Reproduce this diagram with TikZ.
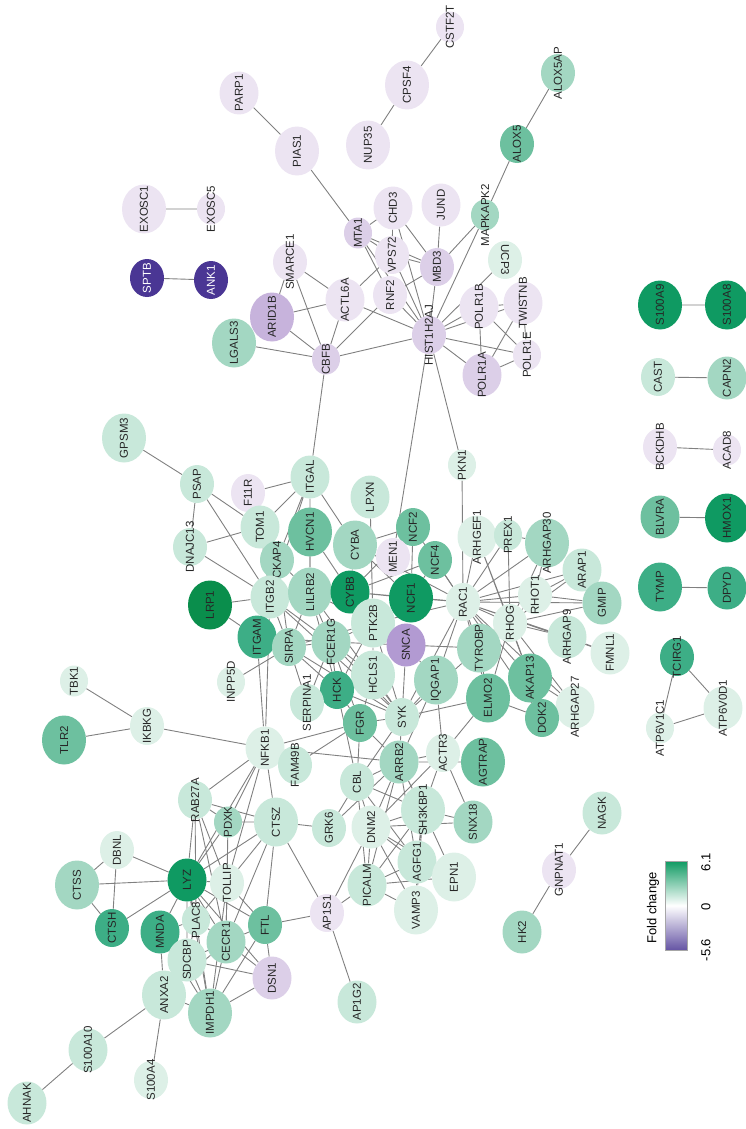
\documentclass[tikz,border=0pt]{standalone}
\usepackage{fontspec}
\setmainfont{Liberation Sans}
\usetikzlibrary{shapes.geometric,backgrounds}
\definecolor{gA}{HTML}{0A8E4C}
\definecolor{gB}{HTML}{0F9A62}
\definecolor{gC}{HTML}{3DAE86}
\definecolor{gD}{HTML}{6DC09F}
\definecolor{gE}{HTML}{A3D7C2}
\definecolor{gF}{HTML}{C8E8DA}
\definecolor{gG}{HTML}{DDF0E7}
\definecolor{pA}{HTML}{ECE4F2}
\definecolor{pB}{HTML}{DCCFE8}
\definecolor{pC}{HTML}{C7B3DC}
\definecolor{pD}{HTML}{B29AD2}
\definecolor{pE}{HTML}{4A3694}
\tikzstyle{gene} = [ellipse, inner sep=0pt, draw=none]
\tikzstyle{gs} = [minimum width=28pt, minimum height=31pt]
\tikzstyle{gm} = [minimum width=34pt, minimum height=38pt]
\tikzstyle{gl} = [minimum width=39pt, minimum height=43pt]
\tikzstyle{gx} = [minimum width=44pt, minimum height=49pt]
\tikzstyle{glabel} = [rotate=90, inner sep=0pt, text=black!85, font=\fontsize{11.5}{12}\selectfont]
\tikzstyle{edge} = [draw=black!50, line width=0.9pt]
\tikzstyle{legtxt} = [rotate=90, inner sep=0pt, font=\fontsize{13}{14}\selectfont]
\newcommand{\gene}[4][]{
    \node (#2) at (#3) [gene,#4] {};
    \node (#2-t) at (#2.center) [glabel,#1] {#2};
}

\begin{document}
\begin{tikzpicture}[x=1pt,y=-1pt]
	\useasboundingbox (0,0) rectangle (746,1129);

	\gene{PARP1}{239,93}{gl,fill=pA}
	\gene{PIAS1}{297,151}{gx,fill=pA}
	\gene{NUP35}{368,145}{gx,fill=pA}
	\gene{CPSF4}{407,85}{gx,fill=pA}
	\gene{CSTF2T}{450,27}{gs,fill=pA}
	\gene{EXOSC1}{144,209}{gx,fill=pA}
	\gene{EXOSC5}{211,209}{gs,fill=pA}
	\gene[text=white]{SPTB}{147,278}{gm,fill=pE}
	\gene[text=white]{ANK1}{211,280}{gm,fill=pE}
	\gene{ALOX5AP}{558,73}{gm,fill=gE}
	\gene{ALOX5}{517,144}{gm,fill=gD}
	\gene{MAPKAPK2}{485,215}{gs,fill=gE}
	\gene{JUND}{441,205}{gl,fill=pA}
	\gene{CHD3}{393,208}{gl,fill=pA}
	\gene{MTA1}{358,233}{gs,fill=pB}
	\gene{VPS72}{392,255}{gm,fill=pA}
	\gene{MBD3}{437,267}{gm,fill=pB}
	\gene{SMARCE1}{290,262}{gm,fill=pA}
	\gene[rotate=180]{UCP3}{505,260}{gm,fill=gG}
	\gene{ACTL6A}{345,300}{gl,fill=pA}
	\gene{RNF2}{390,295}{gm,fill=pA}
	\gene{ARID1B}{272,317}{gx,fill=pC}
	\gene{LGALS3}{234,343}{gx,fill=gE}
	\gene{CBFB}{326,359}{gs,fill=pB}
	\gene{HIST1H2AJ}{429,335}{gm,fill=pB}
	\gene{POLR1B}{479,307}{gl,fill=pA}
	\gene{TWISTNB}{523,303}{gl,fill=pA}
	\gene{POLR1A}{482,375}{gl,fill=pB}
	\gene{POLR1E}{527,355}{gs,fill=pA}

	\gene{S100A9}{660,305}{gx,fill=gB}
	\gene{S100A8}{727,305}{gx,fill=gB}
	\gene{CAST}{658,377}{gm,fill=gF}
	\gene{CAPN2}{727,378}{gl,fill=gE}
	\gene{BCKDHB}{660,447}{gm,fill=pA}
	\gene{ACAD8}{727,450}{gs,fill=pA}
	\gene{BLVRA}{660,517}{gl,fill=gD}
	\gene{HMOX1}{727,518}{gx,fill=gB}
	\gene{TYMP}{660,587}{gx,fill=gC}
	\gene{DPYD}{727,588}{gl,fill=gC}
	\gene{TCIRG1}{677,657}{gm,fill=gC}
	\gene{ATP6V0D1}{723,708}{gl,fill=gG}
	\gene{ATP6V1C1}{660,728}{gs,fill=gG}
	\gene{NAGK}{602,813}{gl,fill=gF}
	\gene{GNPNAT1}{559,870}{gm,fill=pA}
	\gene{HK2}{522,932}{gl,fill=gE}

	\gene{GPSM3}{124,438}{gx,fill=gF}
	\gene{PSAP}{197,484}{gm,fill=gF}
	\gene{F11R}{248,493}{gm,fill=pA}
	\gene{DNAJC13}{190,547}{gm,fill=gF}
	\gene{ITGAL}{310,477}{gl,fill=gF}
	\gene{LPXN}{370,497}{gl,fill=gF}
	\gene{PKN1}{462,465}{gs,fill=gG}
	\gene{TOM1}{260,527}{gl,fill=gF}
	\gene{HVCN1}{310,532}{gx,fill=gD}
	\gene{CYBA}{355,545}{gx,fill=gE}
	\gene{NCF2}{413,527}{gm,fill=gD}
	\gene{MEN1}{393,557}{gm,fill=pA}
	\gene{NCF4}{435,560}{gm,fill=gD}
	\gene{ARHGEF1}{477,537}{gl,fill=gG}
	\gene{CKAP4}{277,560}{gm,fill=gE}
	\gene{PREX1}{508,535}{gs,fill=gF}
	\gene{ARHGAP30}{547,543}{gx,fill=gE}
	\gene{ARAP1}{582,570}{gl,fill=gF}
	\gene{LRP1}{210,605}{gx,fill=gA}
	\gene{ITGB2}{270,597}{gl,fill=gF}
	\gene{LILRB2}{310,592}{gx,fill=gE}
	\gene{CYBB}{350,592}{gl,fill=gB}
	\gene{NCF1}{411,598}{gx,fill=gB}
	\gene{RAC1}{463,602}{gm,fill=gG}
	\gene{RHOT1}{535,595}{gm,fill=gG}
	\gene{GMIP}{602,603}{gl,fill=gE}
	\gene{RHOG}{510,623}{gm,fill=gG}
	\gene{ARHGAP9}{567,637}{gl,fill=gF}
	\gene{FMNL1}{610,653}{gl,fill=gG}
	\gene{ITGAM}{257,637}{gl,fill=gC}
	\gene{SIRPA}{289,647}{gm,fill=gE}
	\gene{FCER1G}{331,642}{gl,fill=gE}
	\gene{PTK2B}{373,623}{gx,fill=gF}
	\gene{SNCA}{406,645}{gl,fill=pD}
	\gene{TYROBP}{479,648}{gx,fill=gE}
	\gene{INPP5D}{231,682}{gs,fill=gG}
	\gene{HCLS1}{373,675}{gx,fill=gF}
	\gene{IQGAP1}{436,680}{gx,fill=gE}
	\gene{AKAP13}{530,678}{gx,fill=gD}
	\gene{HCK}{337,690}{gm,fill=gC}
	\gene{SERPINA1}{307,703}{gm,fill=gF}
	\gene{ELMO2}{488,698}{gx,fill=gD}
	\gene{ARHGAP27}{575,707}{gl,fill=gG}
	\gene{DOK2}{542,718}{gm,fill=gD}
	\gene{FGR}{360,723}{gm,fill=gD}
	\gene{SYK}{402,717}{gm,fill=gF}

	\gene{TBK1}{74,681}{gs,fill=gG}
	\gene{IKBKG}{147,726}{gm,fill=gG}
	\gene{TLR2}{64,740}{gx,fill=gD}
	\gene{NFKB1}{265,748}{gl,fill=gG}
	\gene{FAM49B}{295,765}{gm,fill=gF}
	\gene{ARRB2}{399,762}{gl,fill=gE}
	\gene{ACTR3}{443,753}{gm,fill=gG}
	\gene{AGTRAP}{483,762}{gx,fill=gD}
	\gene{CBL}{357,782}{gm,fill=gF}
	\gene{RAB27A}{195,800}{gm,fill=gF}
	\gene{PDXK}{228,822}{gs,fill=gE}
	\gene{CTSZ}{276,822}{gx,fill=gF}
	\gene{GRK6}{329,828}{gm,fill=gF}
	\gene{DNM2}{371,827}{gl,fill=gG}
	\gene{SH3KBP1}{423,810}{gx,fill=gF}
	\gene{SNX18}{473,822}{gl,fill=gE}
	\gene{DBNL}{117,850}{gm,fill=gG}
	\gene{CTSS}{77,885}{gx,fill=gE}
	\gene{LYZ}{187,880}{gl,fill=gB}
	\gene{TOLLIP}{227,883}{gm,fill=gG}
	\gene{CTSH}{112,928}{gm,fill=gC}
	\gene{MNDA}{160,932}{gl,fill=gC}
	\gene{PLAC8}{196,920}{gs,fill=gF}
	\gene{CECR1}{226,942}{gl,fill=gE}
	\gene{SDCBP}{187,960}{gl,fill=gF}
	\gene{ANXA2}{164,995}{gx,fill=gF}
	\gene{IMPDH1}{210,1013}{gx,fill=gE}
	\gene{S100A10}{88,1050}{gl,fill=gF}
	\gene{S100A4}{151,1080}{gm,fill=gG}
	\gene{AHNAK}{27,1103}{gl,fill=gF}
	\gene{FTL}{265,925}{gm,fill=gD}
	\gene{AP1S1}{327,913}{gm,fill=pA}
	\gene{PICALM}{367,885}{gl,fill=gF}
	\gene{AGFG1}{417,862}{gl,fill=gF}
	\gene{VAMP3}{416,910}{gx,fill=gG}
	\gene{EPN1}{454,877}{gx,fill=gG}
	\gene{DSN1}{272,978}{gl,fill=pB}
	\gene{AP1G2}{357,1002}{gl,fill=gF}

	\node (legbar) at (676,905.5) [minimum width=22pt, minimum height=89pt, draw=black!35, line width=0.4pt, top color=gB, bottom color=pE!85, middle color=white] {};
	\node (legname) at (653,908) [legtxt] {Fold change};
	\node (leghi) at (706,862) [legtxt] {6.1};
	\node (legmid) at (706,907) [legtxt] {0};
	\node (leglo) at (706,950) [legtxt] {-5.6};

	\begin{scope}[on background layer]
	\draw[edge] (PARP1) -- (PIAS1) (PIAS1) -- (MTA1) (NUP35) -- (CPSF4) (CPSF4) -- (CSTF2T);
	\draw[edge] (EXOSC1) -- (EXOSC5) (SPTB) -- (ANK1) (ALOX5AP) -- (ALOX5) (ALOX5) -- (MAPKAPK2);
	\draw[edge] (MAPKAPK2) -- (MBD3) (MAPKAPK2) -- (HIST1H2AJ) (JUND) -- (MBD3);
	\draw[edge] (MTA1) -- (CHD3) (MTA1) -- (VPS72) (MTA1) -- (MBD3) (MTA1) -- (HIST1H2AJ) (MTA1) -- (RNF2);
	\draw[edge] (CHD3) -- (MBD3) (CHD3) -- (HIST1H2AJ) (CHD3) -- (VPS72);
	\draw[edge] (VPS72) -- (MBD3) (VPS72) -- (HIST1H2AJ) (VPS72) -- (ACTL6A) (MBD3) -- (HIST1H2AJ) (MBD3) -- (RNF2);
	\draw[edge] (SMARCE1) -- (ACTL6A) (SMARCE1) -- (CBFB) (SMARCE1) -- (ARID1B);
	\draw[edge] (ACTL6A) -- (CBFB) (ACTL6A) -- (HIST1H2AJ) (ACTL6A) -- (ARID1B) (RNF2) -- (HIST1H2AJ) (RNF2) -- (CBFB);
	\draw[edge] (ARID1B) -- (CBFB) (LGALS3) -- (CBFB) (CBFB) -- (HIST1H2AJ) (CBFB) -- (ITGAL);
	\draw[edge] (HIST1H2AJ) -- (POLR1B) (HIST1H2AJ) -- (POLR1A) (HIST1H2AJ) -- (TWISTNB) (HIST1H2AJ) -- (POLR1E) (HIST1H2AJ) -- (UCP3);
	\draw[edge] (POLR1B) -- (POLR1A) (POLR1B) -- (TWISTNB) (POLR1B) -- (POLR1E) (POLR1A) -- (TWISTNB) (POLR1A) -- (POLR1E) (TWISTNB) -- (POLR1E);
	\draw[edge] (HIST1H2AJ) -- (MEN1) (HIST1H2AJ) -- (PKN1) (PKN1) -- (RAC1);

	\draw[edge] (S100A9) -- (S100A8) (CAST) -- (CAPN2) (BCKDHB) -- (ACAD8) (BLVRA) -- (HMOX1) (TYMP) -- (DPYD);
	\draw[edge] (TCIRG1) -- (ATP6V1C1) (TCIRG1) -- (ATP6V0D1) (ATP6V1C1) -- (ATP6V0D1) (NAGK) -- (GNPNAT1) (GNPNAT1) -- (HK2);

	\draw[edge] (GPSM3) -- (PSAP) (PSAP) -- (DNAJC13) (PSAP) -- (TOM1) (PSAP) -- (ITGB2) (DNAJC13) -- (TOM1) (DNAJC13) -- (ITGB2);
	\draw[edge] (F11R) -- (ITGAL) (ITGAL) -- (TOM1) (ITGAL) -- (HVCN1) (ITGAL) -- (ITGB2) (ITGAL) -- (CYBA) (ITGAL) -- (CKAP4) (ITGAL) -- (LILRB2);
	\draw[edge] (LPXN) -- (PTK2B) (NCF2) -- (CYBA) (NCF2) -- (NCF4) (NCF2) -- (NCF1) (NCF2) -- (RAC1) (NCF2) -- (CYBB);
	\draw[edge] (NCF4) -- (NCF1) (NCF4) -- (RAC1) (NCF4) -- (CYBB) (CYBA) -- (CYBB) (CYBA) -- (NCF1) (CYBA) -- (RAC1) (CYBB) -- (NCF1) (CYBB) -- (RAC1);
	\draw[edge] (TOM1) -- (ITGB2) (TOM1) -- (CKAP4) (HVCN1) -- (CYBB) (HVCN1) -- (LILRB2) (CKAP4) -- (ITGB2) (CKAP4) -- (LILRB2) (CKAP4) -- (SIRPA);
	\draw[edge] (LRP1) -- (ITGB2) (LRP1) -- (ITGAM) (INPP5D) -- (SIRPA);
	\draw[edge] (ITGB2) -- (ITGAM) (ITGB2) -- (LILRB2) (ITGB2) -- (FCER1G) (ITGB2) -- (SIRPA) (ITGB2) -- (SYK) (ITGB2) -- (NFKB1);
	\draw[edge] (ITGAM) -- (SIRPA) (ITGAM) -- (NFKB1) (ITGAM) -- (FCER1G);
	\draw[edge] (LILRB2) -- (FCER1G) (LILRB2) -- (SIRPA) (LILRB2) -- (SYK) (LILRB2) -- (HCK) (LILRB2) -- (PTK2B);
	\draw[edge] (SIRPA) -- (FCER1G) (SIRPA) -- (SYK) (SIRPA) -- (HCK) (SIRPA) -- (PTK2B) (SERPINA1) -- (SIRPA) (SERPINA1) -- (FCER1G);
	\draw[edge] (FCER1G) -- (SYK) (FCER1G) -- (HCK) (FCER1G) -- (FGR) (FCER1G) -- (TYROBP) (FCER1G) -- (HCLS1) (FCER1G) -- (PTK2B);
	\draw[edge] (PTK2B) -- (SYK) (PTK2B) -- (HCLS1) (PTK2B) -- (SNCA) (PTK2B) -- (RAC1) (PTK2B) -- (HCK) (SNCA) -- (SYK) (SNCA) -- (IQGAP1);
	\draw[edge] (HCLS1) -- (SYK) (HCLS1) -- (HCK) (HCLS1) -- (FGR) (HCK) -- (SYK) (HCK) -- (FGR) (HCK) -- (CBL);
	\draw[edge] (FGR) -- (SYK) (FGR) -- (CBL) (FGR) -- (ARRB2) (SYK) -- (CBL) (SYK) -- (TYROBP) (SYK) -- (IQGAP1) (SYK) -- (ELMO2) (SYK) -- (ARRB2) (SYK) -- (RAC1);
	\draw[edge] (IQGAP1) -- (RAC1) (IQGAP1) -- (ACTR3) (IQGAP1) -- (ARRB2);
	\draw[edge] (RAC1) -- (NCF1) (RAC1) -- (ARHGEF1) (RAC1) -- (PREX1) (RAC1) -- (ARHGAP30) (RAC1) -- (ARAP1) (RAC1) -- (RHOT1) (RAC1) -- (GMIP);
	\draw[edge] (RAC1) -- (RHOG) (RAC1) -- (ARHGAP9) (RAC1) -- (FMNL1) (RAC1) -- (AKAP13) (RAC1) -- (DOK2) (RAC1) -- (ELMO2) (RAC1) -- (TYROBP) (RAC1) -- (ARHGAP27);
	\draw[edge] (ARHGEF1) -- (RHOG) (ARHGEF1) -- (AKAP13) (PREX1) -- (RHOG) (PREX1) -- (ARHGAP30) (ARHGAP30) -- (RHOG) (ARHGAP30) -- (RHOT1);
	\draw[edge] (ARAP1) -- (RHOG) (ARAP1) -- (RHOT1) (GMIP) -- (RHOG) (GMIP) -- (RHOT1) (RHOT1) -- (RHOG) (RHOG) -- (ELMO2) (RHOG) -- (AKAP13);
	\draw[edge] (RHOG) -- (ARHGAP9) (ARHGAP9) -- (FMNL1) (ARHGAP27) -- (RHOG) (ARHGAP27) -- (AKAP13) (DOK2) -- (AKAP13) (ELMO2) -- (DOK2) (TYROBP) -- (ELMO2);

	\draw[edge] (NFKB1) -- (IKBKG) (IKBKG) -- (TBK1) (IKBKG) -- (TLR2) (NFKB1) -- (RAB27A) (NFKB1) -- (PDXK) (NFKB1) -- (LYZ) (NFKB1) -- (TOLLIP);
	\draw[edge] (NFKB1) -- (CTSZ) (NFKB1) -- (FAM49B) (NFKB1) -- (FGR) (NFKB1) -- (ARRB2) (FAM49B) -- (FGR);
	\draw[edge] (CTSZ) -- (PDXK) (CTSZ) -- (RAB27A) (CTSZ) -- (LYZ) (CTSZ) -- (TOLLIP) (CTSZ) -- (CECR1) (CTSZ) -- (FTL) (CTSZ) -- (AP1S1) (CTSZ) -- (GRK6);
	\draw[edge] (GRK6) -- (ARRB2) (GRK6) -- (CBL) (CBL) -- (ARRB2) (CBL) -- (SH3KBP1) (CBL) -- (DNM2) (CBL) -- (AGFG1) (CBL) -- (PICALM);
	\draw[edge] (ARRB2) -- (DNM2) (ARRB2) -- (SH3KBP1) (ARRB2) -- (AGTRAP) (ARRB2) -- (ACTR3) (ARRB2) -- (PICALM) (ARRB2) -- (AGFG1);
	\draw[edge] (ACTR3) -- (SH3KBP1) (ACTR3) -- (SNX18) (ACTR3) -- (DNM2) (ACTR3) -- (ELMO2);
	\draw[edge] (DNM2) -- (SH3KBP1) (DNM2) -- (PICALM) (DNM2) -- (AGFG1) (DNM2) -- (EPN1) (DNM2) -- (SNX18) (DNM2) -- (VAMP3);
	\draw[edge] (SH3KBP1) -- (AGFG1) (SH3KBP1) -- (EPN1) (SH3KBP1) -- (VAMP3) (SH3KBP1) -- (SNX18) (SH3KBP1) -- (PICALM);
	\draw[edge] (PICALM) -- (AGFG1) (PICALM) -- (VAMP3) (PICALM) -- (EPN1) (PICALM) -- (AP1S1) (AGFG1) -- (EPN1) (AGFG1) -- (VAMP3);
	\draw[edge] (AP1S1) -- (AP1G2) (AP1S1) -- (FTL) (AP1S1) -- (DNM2);

	\draw[edge] (DBNL) -- (CTSS) (DBNL) -- (CTSH) (DBNL) -- (LYZ) (CTSS) -- (LYZ) (CTSS) -- (CTSH) (CTSH) -- (LYZ);
	\draw[edge] (RAB27A) -- (PDXK) (RAB27A) -- (LYZ) (RAB27A) -- (TOLLIP) (RAB27A) -- (CECR1) (RAB27A) -- (PLAC8);
	\draw[edge] (PDXK) -- (LYZ) (PDXK) -- (TOLLIP) (PDXK) -- (CECR1);
	\draw[edge] (LYZ) -- (MNDA) (LYZ) -- (PLAC8) (LYZ) -- (SDCBP) (LYZ) -- (CECR1) (LYZ) -- (TOLLIP) (LYZ) -- (IMPDH1) (LYZ) -- (FTL) (LYZ) -- (DSN1);
	\draw[edge] (MNDA) -- (ANXA2) (MNDA) -- (PLAC8) (MNDA) -- (SDCBP) (MNDA) -- (IMPDH1);
	\draw[edge] (ANXA2) -- (S100A10) (ANXA2) -- (S100A4) (S100A10) -- (AHNAK) (ANXA2) -- (SDCBP) (ANXA2) -- (IMPDH1) (ANXA2) -- (CECR1);
	\draw[edge] (IMPDH1) -- (CECR1) (IMPDH1) -- (SDCBP) (IMPDH1) -- (DSN1) (IMPDH1) -- (FTL) (IMPDH1) -- (PLAC8) (IMPDH1) -- (TOLLIP);
	\draw[edge] (FTL) -- (DSN1) (FTL) -- (CECR1) (TOLLIP) -- (CECR1) (TOLLIP) -- (FTL) (TOLLIP) -- (PLAC8);
	\draw[edge] (DSN1) -- (CECR1) (DSN1) -- (SDCBP) (PLAC8) -- (CECR1) (PLAC8) -- (SDCBP) (SDCBP) -- (CECR1);
	\end{scope}
\end{tikzpicture}
\end{document}
